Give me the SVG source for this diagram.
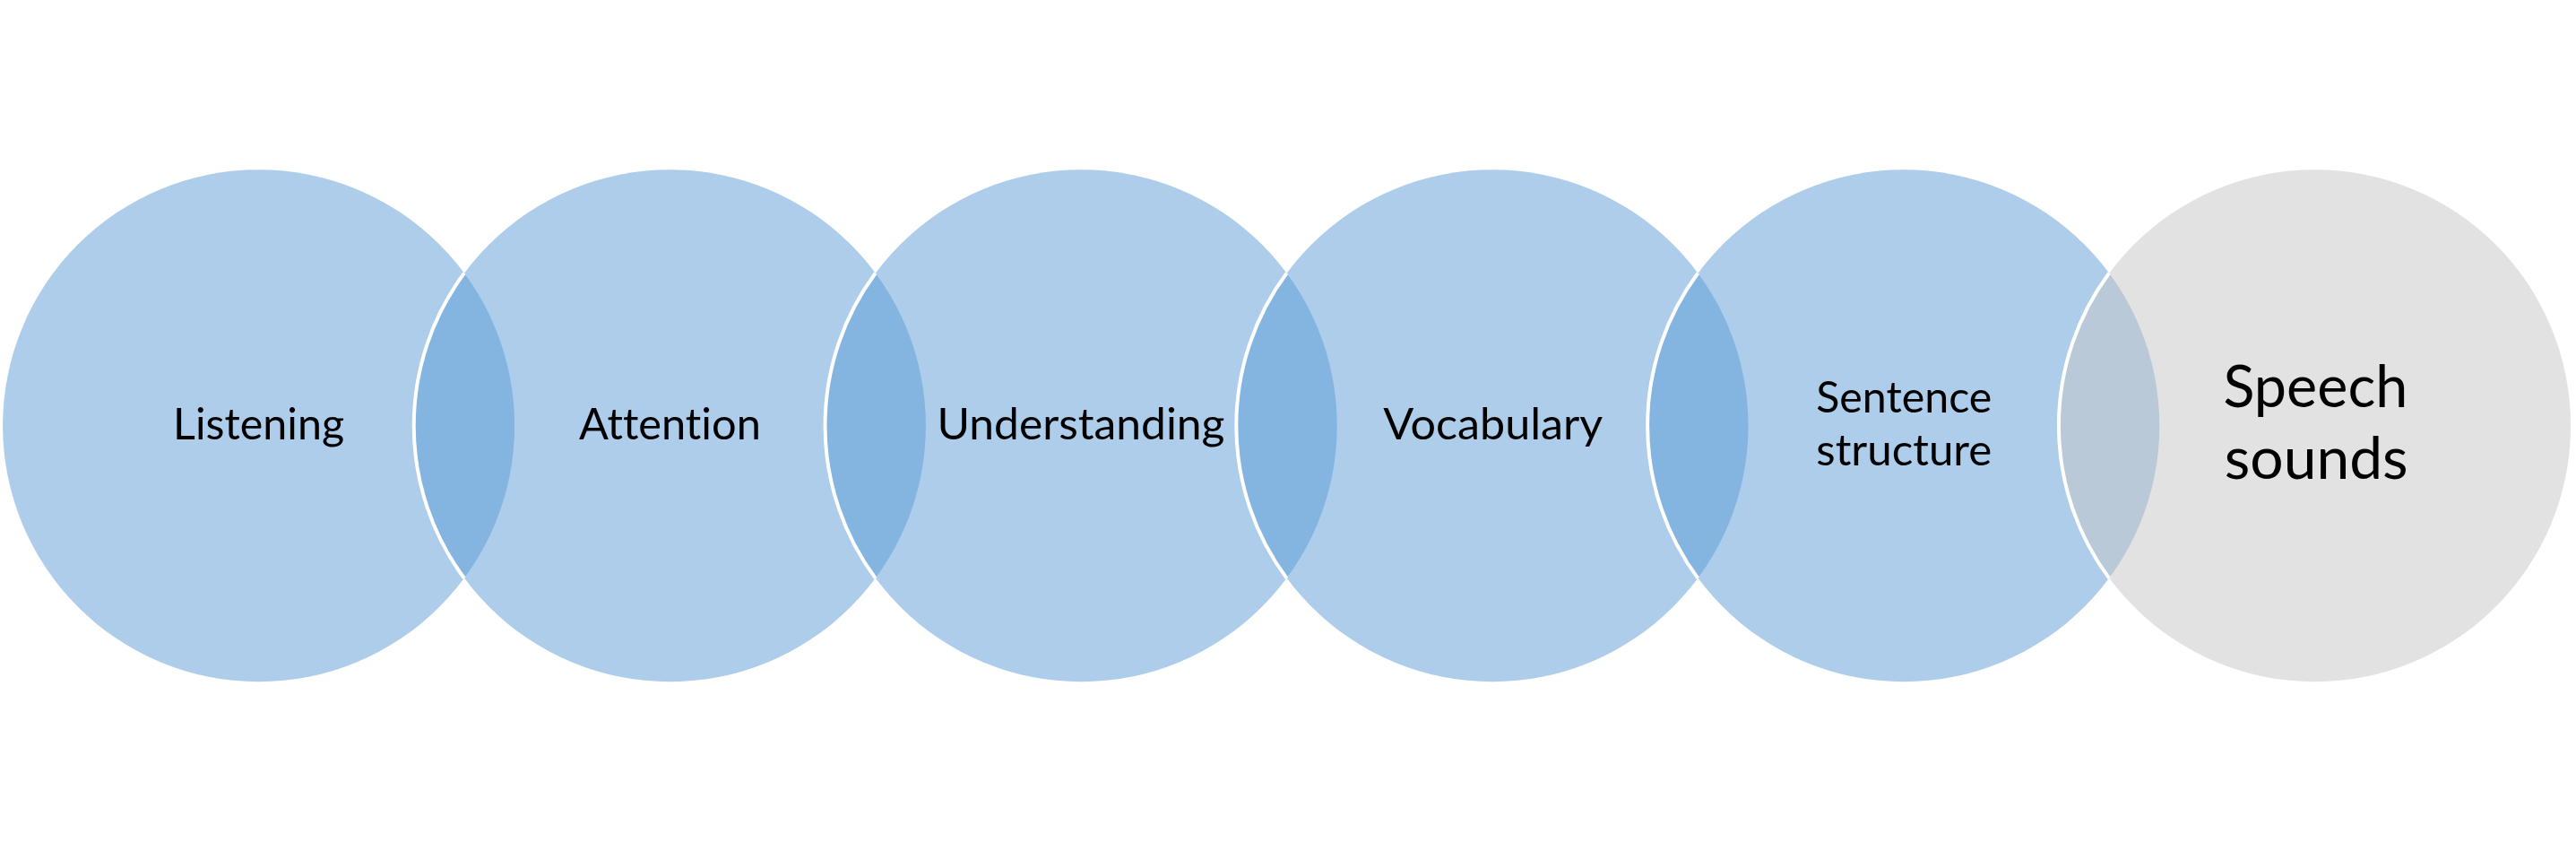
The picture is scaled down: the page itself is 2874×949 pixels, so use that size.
<svg xmlns="http://www.w3.org/2000/svg" width="2874" height="949" viewBox="0 0 2874 949">
<style>
.blue{fill:#5B9BD5;fill-opacity:0.5;}
.gray{fill:#C6C6C6;fill-opacity:0.5;}
.edge{fill:none;stroke:#FFFFFF;stroke-width:4;}
.lbl{font-family:Lato,"Liberation Sans",sans-serif;font-size:49px;fill:#000000;text-anchor:middle;font-variant-ligatures:none;font-feature-settings:"liga" 0,"clig" 0;}
.big{font-size:65px;}
</style>
<rect width="2874" height="949" fill="#FFFFFF"/>
<g id="connectors"></g>
<g id="node-listening">
<circle class="blue" cx="288.6" cy="474.7" r="285.5"/>
<text class="lbl" x="288.6" y="490" textLength="191" lengthAdjust="spacingAndGlyphs">Listening</text>
</g>
<g id="node-attention">
<circle class="blue" cx="747.4" cy="474.7" r="285.5"/>
<path class="edge" d="M518 304.5 A285.5 285.5 0 0 0 518 644.9"/>
<text class="lbl" x="747.4" y="490" textLength="203" lengthAdjust="spacingAndGlyphs">Attention</text>
</g>
<g id="node-understanding">
<circle class="blue" cx="1206.2" cy="474.7" r="285.5"/>
<path class="edge" d="M976.8 304.5 A285.5 285.5 0 0 0 976.8 644.9"/>
<text class="lbl" x="1206" y="490" textLength="321" lengthAdjust="spacingAndGlyphs">Understanding</text>
</g>
<g id="node-vocabulary">
<circle class="blue" cx="1665" cy="474.7" r="285.5"/>
<path class="edge" d="M1435.6 304.5 A285.5 285.5 0 0 0 1435.6 644.9"/>
<text class="lbl" x="1665.8" y="490" textLength="245" lengthAdjust="spacingAndGlyphs">Vocabulary</text>
</g>
<g id="node-sentence-structure">
<circle class="blue" cx="2123.8" cy="474.7" r="285.5"/>
<path class="edge" d="M1894.4 304.5 A285.5 285.5 0 0 0 1894.4 644.9"/>
<text class="lbl" x="2124.3" y="460" textLength="196" lengthAdjust="spacingAndGlyphs">Sentence</text>
<text class="lbl" x="2124.3" y="519" textLength="196" lengthAdjust="spacingAndGlyphs">structure</text>
</g>
<g id="node-speech-sounds">
<circle class="gray" cx="2582.6" cy="474.7" r="285.5"/>
<path class="edge" d="M2353.2 304.5 A285.5 285.5 0 0 0 2353.2 644.9"/>
<text class="lbl big" x="2583.4" y="454" textLength="206" lengthAdjust="spacingAndGlyphs">Speech</text>
<text class="lbl big" x="2584.2" y="534" textLength="205" lengthAdjust="spacingAndGlyphs">sounds</text>
</g>
</svg>
